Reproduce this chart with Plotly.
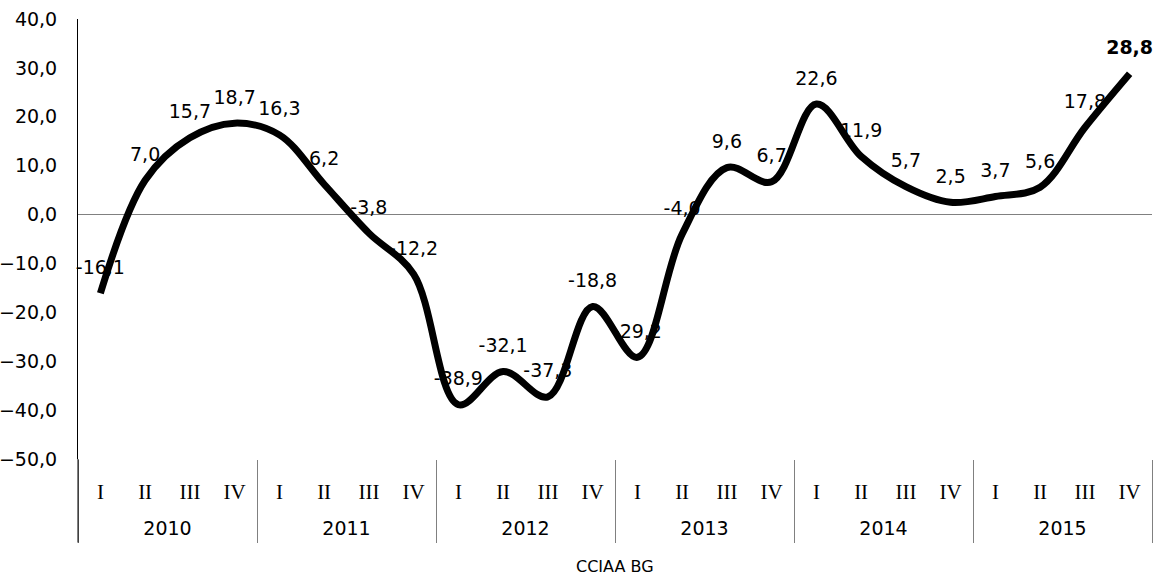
import plotly.graph_objects as go

years = ["2010", "2011", "2012", "2013", "2014", "2015"]
quarters = ["I", "II", "III", "IV"]
values = [-16.1, 7.0, 15.7, 18.7,
          16.3, 6.2, -3.8, -12.2,
          -38.9, -32.1, -37.3, -18.8,
          -29.2, -4.0, 9.6, 6.7,
          22.6, 11.9, 5.7, 2.5,
          3.7, 5.6, 17.8, 28.8]
y_ticks = [40, 30, 20, 10, 0, -10, -20, -30, -40, -50]
axis_title = "CCIAA BG"

nq = len(quarters)
idx = list(range(len(years) * nq))
q_labels = [q for _ in years for q in quarters]
year_centers = [i * nq + (nq - 1) / 2 for i in range(len(years))]
year_bounds = [i * nq - 0.5 for i in range(len(years) + 1)]
x_range = [-0.5, len(idx) - 0.5]

def fmt(v):
    return ("%.1f" % v).replace(".", ",")

texts = [fmt(v) for v in values]
texts[-1] = "<b>" + texts[-1] + "</b>"

SANS = "DejaVu Sans"
SERIF = "Liberation Serif"
FS = 19

fig = go.Figure()
fig.add_trace(go.Scatter(
    x=idx, y=values,
    mode="lines+markers+text",
    line=dict(color="black", width=7, shape="spline", smoothing=1.0),
    marker=dict(size=22, color="rgba(0,0,0,0)"),
    text=texts, textposition="top center",
    textfont=dict(family=SANS, size=FS, color="black"),
    hoverinfo="skip", showlegend=False, cliponaxis=False,
))
fig.add_trace(go.Scatter(
    x=year_centers, y=[None] * len(year_centers), xaxis="x2", yaxis="y",
    mode="lines", showlegend=False, hoverinfo="skip",
))

fig.update_layout(
    width=1160, height=581,
    margin=dict(l=78, r=8, t=19, b=122, autoexpand=False),
    paper_bgcolor="white", plot_bgcolor="white",
    separators=",.",
    font=dict(family=SANS, size=FS, color="black"),
    yaxis=dict(
        range=[-50, 40], tickvals=y_ticks, tickformat=".1f",
        showgrid=False, zeroline=True, zerolinecolor="#808080", zerolinewidth=1,
        showline=True, linecolor="black", linewidth=1, ticks="",
        ticklabelstandoff=16, automargin=False,
        tickfont=dict(family=SANS, size=FS, color="black"),
    ),
    xaxis=dict(
        range=x_range, tickvals=idx, ticktext=q_labels,
        showgrid=False, zeroline=False, showline=False, ticks="",
        ticklabelstandoff=18, automargin=False,
        tickfont=dict(family=SERIF, size=21, color="black"),
    ),
    xaxis2=dict(
        overlaying="x", anchor="y", side="bottom",
        range=x_range, tickvals=year_centers, ticktext=years,
        showgrid=False, zeroline=False, showline=False, ticks="",
        ticklabelstandoff=56, automargin=False,
        tickfont=dict(family=SANS, size=FS, color="black"),
        minor=dict(tickvals=year_bounds, ticks="outside", ticklen=83,
                   tickcolor="#808080", tickwidth=1, showgrid=False),
    ),
    annotations=[dict(text=axis_title, xref="paper", yref="paper", x=0.5, y=-0.245,
                      xanchor="center", yanchor="middle", showarrow=False,
                      font=dict(family=SANS, size=16, color="black"))],
)
fig.add_shape(type="line", xref="paper", yref="paper", x0=0, x1=0, y0=0, y1=-0.19,
              line=dict(color="black", width=1))

fig.write_html("out.html", config={"displayModeBar": False},
               post_script="document.body.style.margin='0px';")
